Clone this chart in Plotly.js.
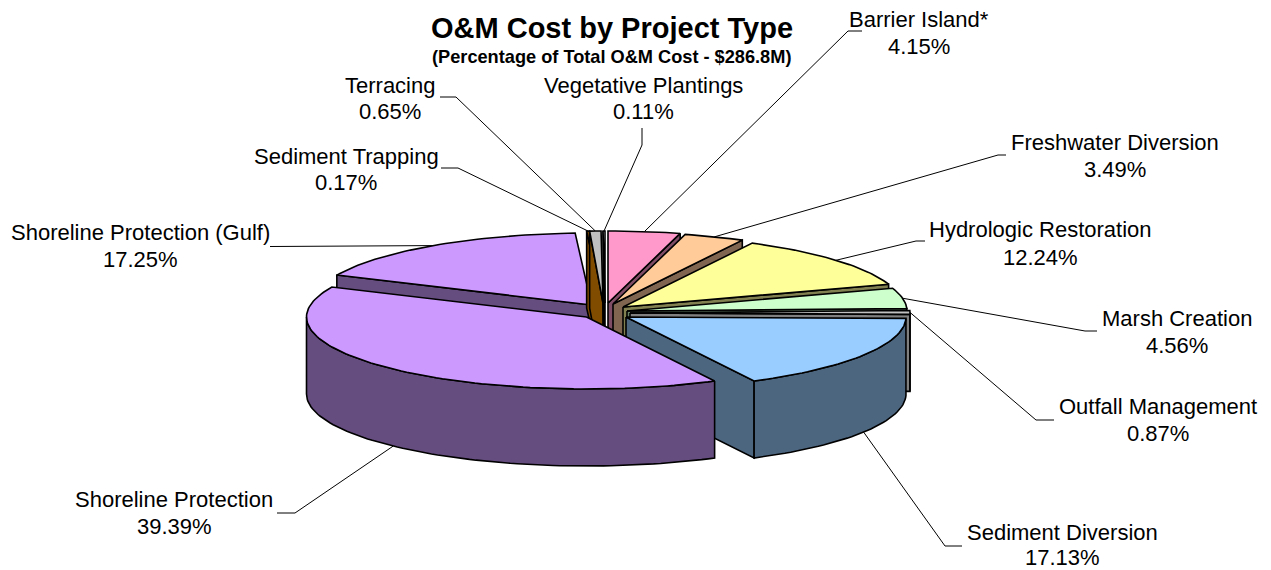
<!DOCTYPE html>
<html><head><meta charset="utf-8">
<script src="https://cdn.plot.ly/plotly-3.0.1.min.js"></script>
<style>html,body{margin:0;padding:0;background:#fff}#c{width:1271px;height:570px}</style>
</head><body><div id="c"></div>
<script>
// Data, clockwise from 12 o'clock
const categories = ["Barrier Island*","Freshwater Diversion","Hydrologic Restoration","Marsh Creation","Outfall Management","Sediment Diversion","Shoreline Protection","Shoreline Protection (Gulf)","Sediment Trapping","Terracing","Vegetative Plantings"];
const values = [4.15,3.49,12.24,4.56,0.87,17.13,39.39,17.25,0.17,0.65,0.11];
// Styles
const topColors  = ["#FF99CC","#FFCC99","#FFFF99","#CCFFCC","#C0C0C0","#99CCFF","#CC99FF","#CC99FF","#804C00","#C0C0C0","#FFFFFF"];
const wallColors = ["#804D66","#806650","#808050","#668066","#808080","#4D6680","#664D80","#664D80","#804C00","#804C00","#000000"];
// Exploded-pie geometry: apex of each slice in pixels
const apexX = [608,613,623,627,630,626,586.5,591.5,603,603,605];
const apexY = [303,304,307,311,313,317,317,305,303,303,303];
const rx = 280, ry = 72, depth = 77;
const drawOrder = [7,8,9,10,0,1,2,3,4,5,6];
// Label layout
const labelX = [919,1115,1040,1177,1158,1062,174,140,346,390,643];
const nameY  = [19,142,229,318,406,532.5,499,232,156,85,85];
const pctY   = [46,169,257,345,433,557.5,526,259,182,111,111];
const elbowX = [[862,848],[1006,998],[925,916],[1097,1085],[1054,1036],[962,945],[277,295],[270],[441,458],[440,456],[642,642]];
const elbowY = [[31,31],[155,155],[241,241],[331,331],[420,420],[546,546],[513,513],[246.5],[168,168],[97,97],[128,145]];

const total = values.reduce((a,b)=>a+b,0);
const starts = []; let acc = 0;
values.forEach(v=>{starts.push(acc/total*360); acc+=v;});
const ends = values.map((v,i)=>starts[i]+v/total*360);
const rad = d=>d*Math.PI/180;
const px = (i,t)=>apexX[i]+rx*Math.sin(rad(t));
const py = (i,t)=>apexY[i]-ry*Math.cos(rad(t));

function poly(xs,ys,fill){
  return {type:'scatter',mode:'lines',x:xs.concat(xs[0]),y:ys.concat(ys[0]),fill:'toself',fillcolor:fill,
    line:{color:'#000',width:1.6,shape:'linear'},hoverinfo:'skip',showlegend:false};
}
function arcPts(i,a,b,dy){
  const n=Math.max(2,Math.ceil(Math.abs(b-a)/1.5)+1),xs=[],ys=[];
  for(let k=0;k<n;k++){const t=a+(b-a)*k/(n-1);xs.push(px(i,t));ys.push(py(i,t)+dy);}
  return [xs,ys];
}
const traces=[];
// leader lines
categories.forEach((c,i)=>{
  const tm=(starts[i]+ends[i])/2;
  const lower=(tm>90&&tm<270);
  const ex=px(i,tm), ey=py(i,tm)+(lower?depth:0);
  traces.push({type:'scatter',mode:'lines',x:elbowX[i].concat(ex),y:elbowY[i].concat(ey),
    line:{color:'#000',width:1},hoverinfo:'skip',showlegend:false});
});
drawOrder.forEach(i=>{
  const s=starts[i],e=ends[i];
  const edgeWall=t=>poly([apexX[i],px(i,t),px(i,t),apexX[i]],[apexY[i],py(i,t),py(i,t)+depth,apexY[i]+depth],wallColors[i]);
  if(s>180) traces.push(edgeWall(s));
  if(e<=180) traces.push(edgeWall(e));
  const a=Math.max(s,90), b=Math.min(e,270);
  if(b>a){
    const [x1,y1]=arcPts(i,a,b,0), [x2,y2]=arcPts(i,b,a,depth);
    traces.push(poly(x1.concat(x2),y1.concat(y2),wallColors[i]));
  }
  const [xa,ya]=arcPts(i,s,e,0);
  traces.push(poly([apexX[i]].concat(xa),[apexY[i]].concat(ya),topColors[i]));
});
const font={family:'"Liberation Sans",Arial,sans-serif',size:22,color:'#000'};
const ann=(x,y,text,f)=>({x,y,text,xref:'x',yref:'y',xanchor:'center',yanchor:'middle',showarrow:false,font:f,borderpad:0});
const annotations=[];
categories.forEach((c,i)=>{
  annotations.push(ann(labelX[i],nameY[i],c,font));
  annotations.push(ann(labelX[i],pctY[i],values[i].toFixed(2)+'%',font));
});
annotations.push(ann(612,28,'<b>O&M Cost by Project Type</b>',{family:font.family,size:29,color:'#000'}));
annotations.push(ann(611,57,'<b>(Percentage of Total O&M Cost - $286.8M)</b>',{family:font.family,size:18.2,color:'#000'}));
Plotly.newPlot('c',traces,{
  width:1271,height:570,margin:{l:0,r:0,t:0,b:0},paper_bgcolor:'#fff',plot_bgcolor:'#fff',
  xaxis:{range:[0,1271],visible:false,fixedrange:true},
  yaxis:{range:[570,0],visible:false,fixedrange:true},
  showlegend:false,hovermode:false,annotations
},{displayModeBar:false,staticPlot:true});
</script></body></html>
